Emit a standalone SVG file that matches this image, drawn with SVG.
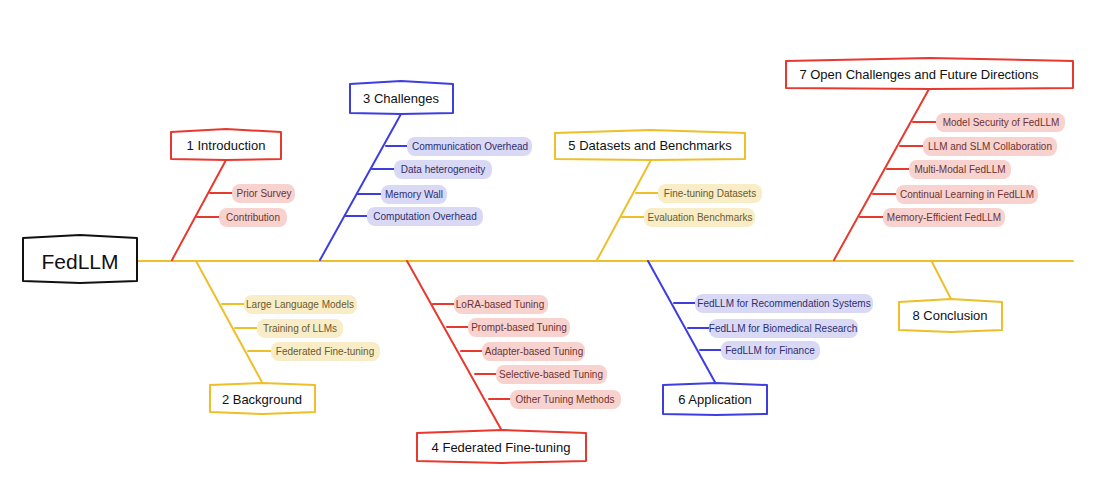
<svg xmlns="http://www.w3.org/2000/svg" width="1104" height="483" viewBox="0 0 1104 483">
<style>
.t{font-family:"Liberation Sans","Noto Sans",sans-serif;font-size:13px;fill:#111;text-anchor:middle;dominant-baseline:central}
.s{font-family:"Liberation Sans","Noto Sans",sans-serif;font-size:10px;text-anchor:middle;dominant-baseline:central}
.box{fill:#fff;stroke-width:2;stroke-linejoin:round}
.r{stroke:#e8392f}.b{stroke:#3e3ee0}.y{stroke:#eebf2a}.k{stroke:#111}
.pr{fill:#f7d2ce}.pb{fill:#d9d9f6}.py{fill:#f8edc6}
.tr{fill:#6e3232}.tb{fill:#2e2e6e}.ty{fill:#6b5a2e}
.ln{fill:none;stroke-width:2;stroke-linecap:round}
</style>
<rect width="1104" height="483" fill="#fff"/>
<g id="connectors">
<path class="ln y" d="M138 261 L1073 261"/>
<path class="ln r" d="M172 260 L226 160 M210 193 L233 193 M197 217 L220 217"/>
<path class="ln b" d="M320 260 L401 114 M386 146 L408 146 M372 169 L395 169 M358 194 L382 194 M345 216 L368 216"/>
<path class="ln y" d="M597 260 L651 160 M636 193 L659 193 M622 217 L645 217"/>
<path class="ln r" d="M834 260 L929 89 M913 122 L937 122 M900 146 L924 146 M887 169 L910 169 M873 194 L897 194 M860 217 L884 217"/>
<path class="ln y" d="M196 261 L263 384 M222 304 L245 304 M235 328 L258 328 M248 351 L272 351"/>
<path class="ln r" d="M407 261 L502 431 M433 304 L455 304 M447 327 L469 327 M461 351 L483 351 M475 374 L497 374 M489 399 L511 399"/>
<path class="ln b" d="M648 261 L716 384 M674 303 L696 303 M688 328 L710 328 M700 350 L722 350"/>
<path class="ln y" d="M932 262 L951 299"/>
</g>
<g id="root"><polygon class="box k" stroke-width="2.5" points="23,238 80,235 137,238 137,281 80,283 23,281"/><text class="t" x="80" y="261" style="font-size:21px">FedLLM</text></g>
<g id="n1"><polygon class="box r" points="171,132 226,129 281,132 281,159 226,160 171,159"/><text class="t" x="226" y="145">1 Introduction</text></g>
<g id="n1a"><rect class="pr" x="232" y="184" width="63" height="19" rx="8"/><text class="s tr" x="264" y="193">Prior Survey</text></g>
<g id="n1b"><rect class="pr" x="219" y="208" width="68" height="19" rx="8"/><text class="s tr" x="253" y="217">Contribution</text></g>
<g id="n3"><polygon class="box b" points="350,84 401,81 453,84 453,113 401,114 350,113"/><text class="t" x="401" y="98">3 Challenges</text></g>
<g id="n3a"><rect class="pb" x="407" y="137" width="125" height="19" rx="8"/><text class="s tb" x="470" y="146">Communication Overhead</text></g>
<g id="n3b"><rect class="pb" x="394" y="160" width="98" height="19" rx="8"/><text class="s tb" x="443" y="169">Data heterogeneity</text></g>
<g id="n3c"><rect class="pb" x="381" y="185" width="66" height="19" rx="8"/><text class="s tb" x="414" y="194">Memory Wall</text></g>
<g id="n3d"><rect class="pb" x="367" y="207" width="116" height="19" rx="8"/><text class="s tb" x="425" y="216">Computation Overhead</text></g>
<g id="n5"><polygon class="box y" points="555,133 650,130 745,133 745,159 650,160 555,159"/><text class="t" x="650" y="145">5 Datasets and Benchmarks</text></g>
<g id="n5a"><rect class="py" x="658" y="184" width="104" height="19" rx="8"/><text class="s ty" x="710" y="193">Fine-tuning Datasets</text></g>
<g id="n5b"><rect class="py" x="644" y="208" width="111" height="19" rx="8"/><text class="s ty" x="700" y="217">Evaluation Benchmarks</text></g>
<g id="n7"><polygon class="box r" points="786,61 930,58 1073,61 1073,88 930,89 786,88"/><text class="t" x="919" y="74">7 Open Challenges and Future Directions</text></g>
<g id="n7a"><rect class="pr" x="936" y="113" width="129" height="19" rx="8"/><text class="s tr" x="1001" y="122">Model Security of FedLLM</text></g>
<g id="n7b"><rect class="pr" x="923" y="137" width="134" height="19" rx="8"/><text class="s tr" x="990" y="146">LLM and SLM Collaboration</text></g>
<g id="n7c"><rect class="pr" x="909" y="160" width="102" height="19" rx="8"/><text class="s tr" x="960" y="169">Multi-Modal FedLLM</text></g>
<g id="n7d"><rect class="pr" x="896" y="185" width="142" height="19" rx="8"/><text class="s tr" x="967" y="194">Continual Learning in FedLLM</text></g>
<g id="n7e"><rect class="pr" x="883" y="208" width="122" height="19" rx="8"/><text class="s tr" x="944" y="217">Memory-Efficient FedLLM</text></g>
<g id="n2"><polygon class="box y" points="210,385 263,383 315,385 315,412 263,414 210,412"/><text class="t" x="262" y="399">2 Background</text></g>
<g id="n2a"><rect class="py" x="244" y="295" width="113" height="19" rx="8"/><text class="s ty" x="300" y="304">Large Language Models</text></g>
<g id="n2b"><rect class="py" x="257" y="319" width="86" height="19" rx="8"/><text class="s ty" x="300" y="328">Training of LLMs</text></g>
<g id="n2c"><rect class="py" x="271" y="342" width="109" height="19" rx="8"/><text class="s ty" x="325" y="351">Federated Fine-tuning</text></g>
<g id="n4"><polygon class="box r" points="417,433 502,430 586,433 586,461 502,463 417,461"/><text class="t" x="501" y="447">4 Federated Fine-tuning</text></g>
<g id="n4a"><rect class="pr" x="454" y="295" width="94" height="19" rx="8"/><text class="s tr" x="500" y="304">LoRA-based Tuning</text></g>
<g id="n4b"><rect class="pr" x="468" y="318" width="102" height="19" rx="8"/><text class="s tr" x="519" y="327">Prompt-based Tuning</text></g>
<g id="n4c"><rect class="pr" x="482" y="342" width="103" height="19" rx="8"/><text class="s tr" x="534" y="351">Adapter-based Tuning</text></g>
<g id="n4d"><rect class="pr" x="496" y="365" width="111" height="19" rx="8"/><text class="s tr" x="551" y="374">Selective-based Tuning</text></g>
<g id="n4e"><rect class="pr" x="510" y="390" width="111" height="19" rx="8"/><text class="s tr" x="565" y="399">Other Tuning Methods</text></g>
<g id="n6"><polygon class="box b" points="663,385 716,383 767,385 767,414 716,415 663,414"/><text class="t" x="715" y="399">6 Application</text></g>
<g id="n6a"><rect class="pb" x="695" y="294" width="178" height="19" rx="8"/><text class="s tb" x="784" y="303">FedLLM for Recommendation Systems</text></g>
<g id="n6b"><rect class="pb" x="709" y="319" width="149" height="19" rx="8"/><text class="s tb" x="783" y="328">FedLLM for Biomedical Research</text></g>
<g id="n6c"><rect class="pb" x="721" y="341" width="99" height="19" rx="8"/><text class="s tb" x="770" y="350">FedLLM for Finance</text></g>
<g id="n8"><polygon class="box y" points="899,302 951,299 1002,302 1002,330 951,332 899,330"/><text class="t" x="950" y="315">8 Conclusion</text></g>
</svg>
